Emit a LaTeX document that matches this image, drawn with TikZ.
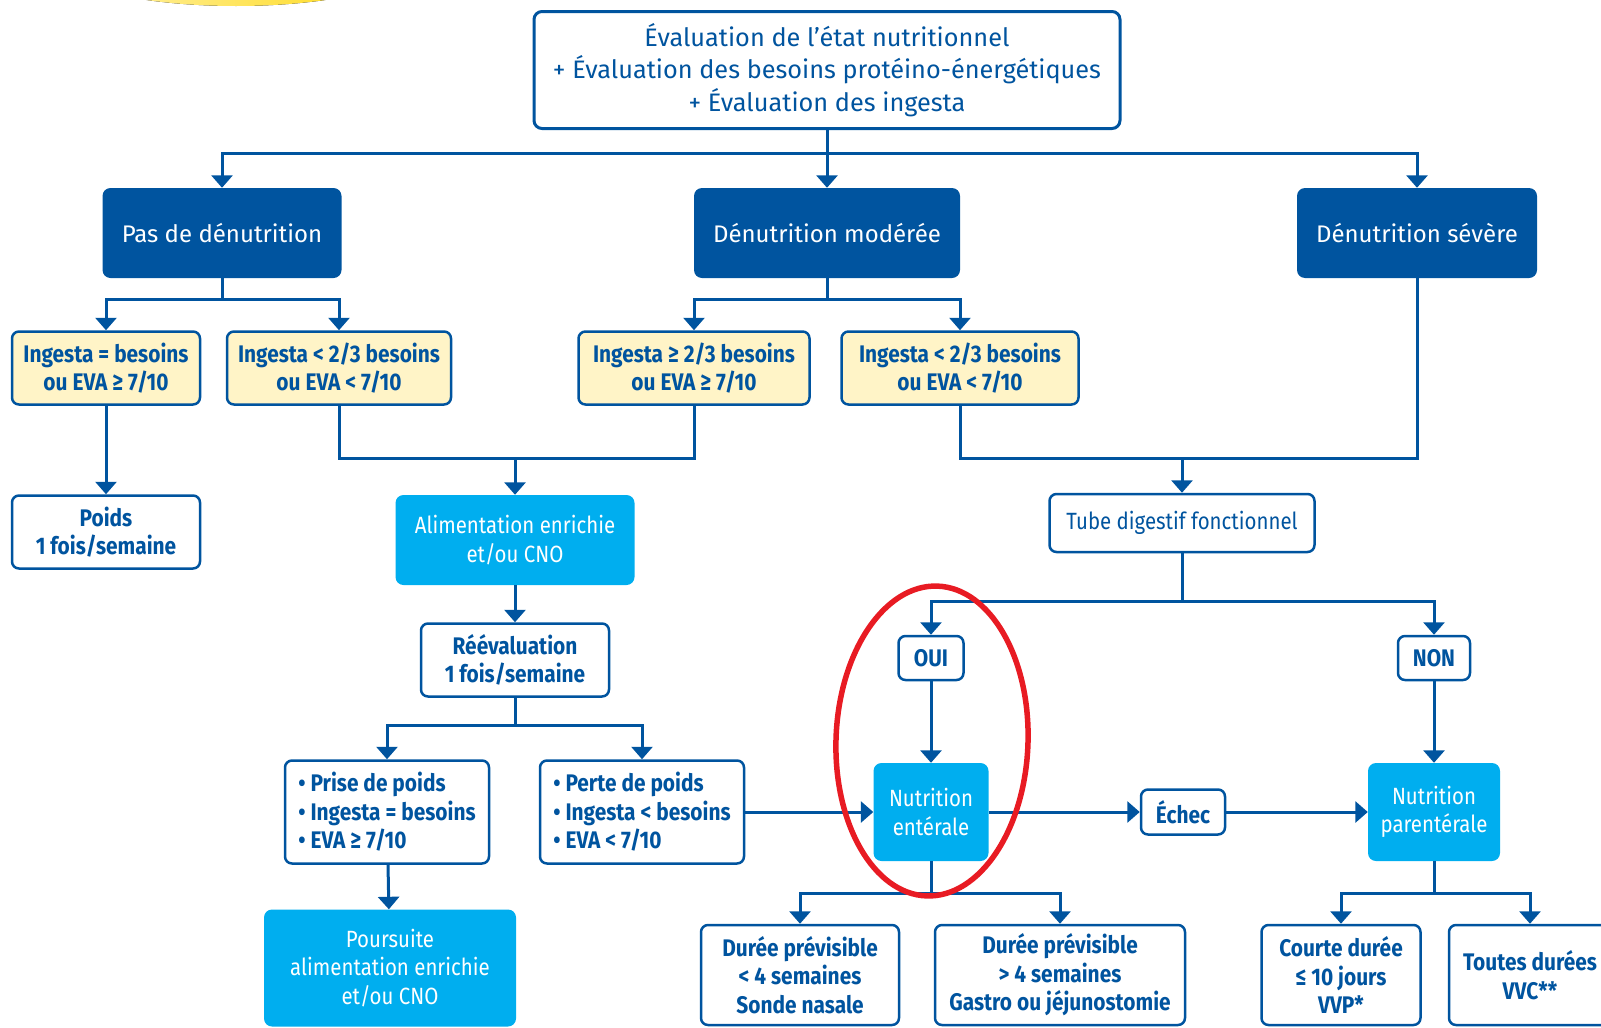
\documentclass[tikz,border=0pt]{standalone}
\usepackage{fontspec}
\setmainfont{Fira Sans}
\newfontfamily\condfont[FakeStretch=0.87]{Fira Sans}
\newfontfamily\headfont[FakeStretch=1.0]{Fira Sans}
\definecolor{hasblue}  {RGB}{0,84,159}
\definecolor{hascyan}  {RGB}{0,174,239}
\definecolor{hascream} {RGB}{255,244,199}
\definecolor{hasred}   {RGB}{232,27,35}
\definecolor{hasyellow}{RGB}{255,214,0}
\usepackage{tikz}
\usetikzlibrary{arrows.meta}
\tikzset{
  evalbox/.style={rectangle,rounded corners=8pt,draw=hasblue,line width=3pt,
              fill=white,text=hasblue,align=center,
              font=\headfont\fontsize{25.3}{32.7}\selectfont},
  gradebox/.style={rectangle,rounded corners=8pt,fill=hasblue,text=white,
              minimum height=90pt,align=center,
              font=\headfont\fontsize{24}{30}\selectfont},
  critbox/.style={rectangle,rounded corners=7pt,draw=hasblue,line width=2.5pt,
              fill=hascream,text=hasblue,minimum height=73pt,align=center,
              font=\condfont\bfseries\fontsize{24}{28.6}\selectfont},
  outbox/.style={rectangle,rounded corners=7pt,draw=hasblue,line width=2.5pt,
              fill=white,text=hasblue,align=center,
              font=\condfont\bfseries\fontsize{24}{28.6}\selectfont},
  actbox/.style={rectangle,rounded corners=8pt,fill=hascyan,text=white,
              align=center,font=\condfont\fontsize{23.5}{28.6}\selectfont},
  link/.style={draw=hasblue,line width=3pt},
  arr/.style={-{Triangle[length=12.5pt,width=21pt]},draw=hasblue,line width=3pt},
}

\begin{document}
\begin{tikzpicture}[x=1pt,y=-1pt]
  \useasboundingbox (0,0) rectangle (1601,1028);
  \clip (0,0) rectangle (1601,1028);
  \fill[left color=hasyellow!25,right color=hasyellow] (236,-54)
        ellipse [x radius=205, y radius=60];

  \node[evalbox,minimum width=586pt,minimum height=117pt] (eval) at (827,70)
        {Évaluation de l’état nutritionnel\\+ Évaluation des besoins protéino-énergétiques\\+ Évaluation des ingesta};

  \node[gradebox,minimum width=239pt] (pas) at (222,233) {Pas de dénutrition};
  \node[gradebox,minimum width=266pt] (mod) at (827,233) {Dénutrition modérée};
  \node[gradebox,minimum width=240pt] (sev) at (1417,233) {Dénutrition sévère};

  \node[critbox,minimum width=188pt] (ing1) at (106,368) {Ingesta = besoins\\ou EVA ≥ 7/10};
  \node[critbox,minimum width=224pt] (ing2) at (339,368) {Ingesta < 2/3 besoins\\ou EVA < 7/10};
  \node[critbox,minimum width=231pt] (ing3) at (694,368) {Ingesta ≥ 2/3 besoins\\ou EVA ≥ 7/10};
  \node[critbox,minimum width=237pt] (ing4) at (960,368) {Ingesta < 2/3 besoins\\ou EVA < 7/10};

  \node[outbox,minimum width=188pt,minimum height=73pt] (poids) at (106,532) {Poids\\1 fois/semaine};
  \node[actbox,minimum width=239pt,minimum height=90pt] (alim) at (515,540) {Alimentation enrichie\\et/ou CNO};
  \node[outbox,minimum width=188pt,minimum height=73pt] (reev) at (515,660) {Réévaluation\\1 fois/semaine};
  \node[outbox,minimum width=204pt,minimum height=103pt,align=left] (prise) at (387,812)
        {• Prise de poids\\• Ingesta = besoins\\• EVA ≥ 7/10};
  \node[outbox,minimum width=204pt,minimum height=103pt,align=left] (perte) at (642,812)
        {• Perte de poids\\• Ingesta < besoins\\• EVA < 7/10};
  \node[actbox,minimum width=252pt,minimum height=117pt] (pours) at (390,968)
        {Poursuite\\alimentation enrichie\\et/ou CNO};

  \node[outbox,minimum width=265pt,minimum height=58pt,font=\condfont\fontsize{23.5}{28.6}\selectfont]
        (tube) at (1182,523) {Tube digestif fonctionnel};
  \node[outbox,minimum width=65pt,minimum height=44pt] (oui) at (931,658) {OUI};
  \node[outbox,minimum width=72pt,minimum height=44pt] (non) at (1434,658) {NON};
  \node[actbox,minimum width=115pt,minimum height=98pt] (ent) at (931,812) {Nutrition\\entérale};
  \node[outbox,minimum width=84pt,minimum height=45pt] (echec) at (1183,812) {Échec};
  \node[actbox,minimum width=132pt,minimum height=98pt] (par) at (1434,812) {Nutrition\\parentérale};

  \node[outbox,minimum width=198pt,minimum height=100pt] (sonde) at (800,975)
        {Durée prévisible\\< 4 semaines\\Sonde nasale};
  \node[outbox,minimum width=250pt,minimum height=100pt] (gastro) at (1060,975)
        {Durée prévisible\\> 4 semaines\\Gastro ou jéjunostomie};
  \node[outbox,minimum width=159pt,minimum height=100pt] (vvp) at (1341,975)
        {Courte durée\\≤ 10 jours\\VVP*};
  \node[outbox,minimum width=162pt,minimum height=100pt] (vvc) at (1530,975)
        {Toutes durées\\VVC**};

  \coordinate (j0) at (827,153);
  \draw[link] (eval.south) -- (j0);
  \draw[arr] (j0) -| (pas.north);
  \draw[arr] (j0) -- (mod.north);
  \draw[arr] (j0) -| (sev.north);

  \coordinate (j1) at (222,299);
  \draw[link] (pas.south) -- (j1);
  \draw[arr] (j1) -| (ing1.north);
  \draw[arr] (j1) -| (ing2.north);
  \coordinate (j2) at (827,299);
  \draw[link] (mod.south) -- (j2);
  \draw[arr] (j2) -| (ing3.north);
  \draw[arr] (j2) -| (ing4.north);

  \draw[arr] (ing1) -- (poids);
  \coordinate (j3) at (515,458);
  \draw[link] (ing2.south) |- (j3) -| (ing3.south);
  \draw[arr] (j3) -- (alim.north);
  \coordinate (j4) at (1182,458);
  \draw[link] (ing4.south) |- (j4) -| (sev.south);
  \draw[arr] (j4) -- (tube.north);

  \draw[arr] (alim) -- (reev);
  \coordinate (j5) at (515,725);
  \draw[link] (reev.south) -- (j5);
  \draw[arr] (j5) -| (prise.north);
  \draw[arr] (j5) -| (perte.north);
  \draw[arr] (prise) -- (pours);
  \draw[arr] (perte) -- (ent);

  \coordinate (j6) at (1182,601);
  \draw[link] (tube.south) -- (j6);
  \draw[arr] (j6) -| (oui.north);
  \draw[arr] (j6) -| (non.north);
  \draw[arr] (oui) -- (ent);
  \draw[arr] (non) -- (par);
  \draw[arr] (ent) -- (echec);
  \draw[arr] (echec) -- (par);

  \coordinate (j7) at (931,893);
  \draw[link] (ent.south) -- (j7);
  \draw[arr] (j7) -| (sonde.north);
  \draw[arr] (j7) -| (gastro.north);
  \coordinate (j8) at (1434,893);
  \draw[link] (par.south) -- (j8);
  \draw[arr] (j8) -| (vvp.north);
  \draw[arr] (j8) -| (vvc.north);

  \draw[hasred,line width=5.5pt,rotate around={-2:(932,741)}] (932,741)
        ellipse [x radius=96, y radius=155];
\end{tikzpicture}
\end{document}
